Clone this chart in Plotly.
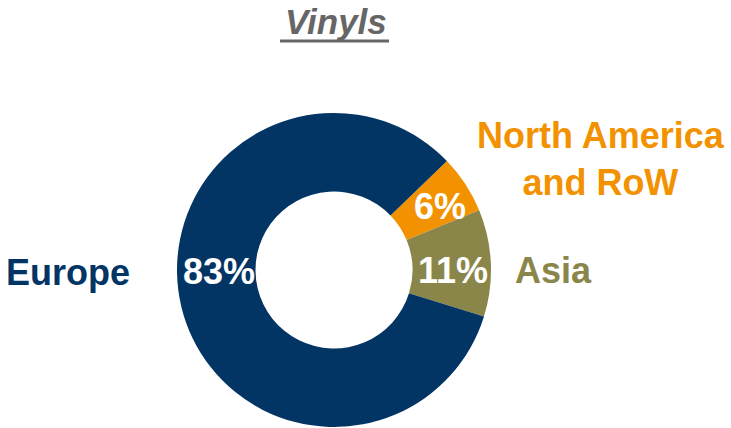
import plotly.graph_objects as go

# Regional split of vinyls sales (%)
regions = ["North America<br>and RoW", "Asia", "Europe"]
shares = [6, 11, 83]
colors = ["#F39200", "#8A8649", "#023464"]

W, H = 731, 428
FONT = "Liberation Sans, Arial, sans-serif"

fig = go.Figure(go.Pie(
    labels=regions,
    values=shares,
    hole=0.5,
    sort=False,
    direction="clockwise",
    rotation=46,
    marker=dict(colors=colors, line=dict(width=0)),
    textinfo="none",
    hoverinfo="label+percent",
    domain=dict(x=[(334 - 157) / W, (334 + 157) / W],
                y=[(H - 270 - 157) / H, (H - 270 + 157) / H]),
    showlegend=False,
))


def px(x, y):
    return x / W, 1 - y / H


annotations = []

# Percentage labels on the ring
pct_pos = [(440, 206), (453, 270), (219, 271)]
for v, (x, y) in zip(shares, pct_pos):
    ax, ay = px(x, y)
    annotations.append(dict(x=ax, y=ay, xref="paper", yref="paper",
                            text=f"<b>{v}%</b>", showarrow=False,
                            xanchor="center", yanchor="middle",
                            font=dict(family=FONT, size=36, color="white")))

# Region names beside the ring
name_pos = [(601, 159, "center"), (513, 270, "left"), (4, 272, "left")]
for name, c, (x, y, anchor) in zip(regions, colors, name_pos):
    ax, ay = px(x, y)
    annotations.append(dict(x=ax, y=ay, xref="paper", yref="paper",
                            text=f"<b>{name}</b>", showarrow=False,
                            xanchor=anchor, yanchor="middle", align="center",
                            font=dict(family=FONT, size=36, color=c)))

# Title with a heavier underline drawn as a shape
tx, ty = px(336, 21)
annotations.append(dict(x=tx, y=ty, xref="paper", yref="paper",
                        text="<b><i>Vinyls</i></b>", showarrow=False,
                        xanchor="center", yanchor="middle",
                        font=dict(family=FONT, size=35, color="#666666")))
ux0, uy = px(280, 41)
ux1, _ = px(389, 41)
shapes = [dict(type="line", xref="paper", yref="paper",
               x0=ux0, x1=ux1, y0=uy, y1=uy,
               line=dict(color="#666666", width=3))]

fig.update_layout(
    width=W, height=H,
    margin=dict(l=0, r=0, t=0, b=0),
    paper_bgcolor="white",
    plot_bgcolor="white",
    annotations=annotations,
    shapes=shapes,
)

fig.write_html("out.html")
